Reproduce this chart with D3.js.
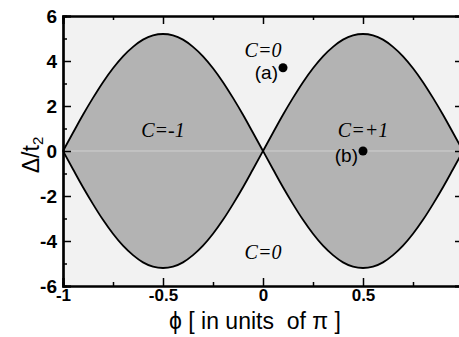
<!DOCTYPE html>
<html><head><meta charset="utf-8">
<script src="https://cdn.jsdelivr.net/npm/d3@7/dist/d3.min.js"></script>
<style>body{margin:0;background:#fff}svg{display:block}</style>
</head><body>
<svg id="c" width="459" height="337"></svg>
<script>
const phi = [-1,-0.95,-0.9,-0.85,-0.8,-0.75,-0.7,-0.65,-0.6,-0.55,-0.5,-0.45,-0.4,-0.35,-0.3,-0.25,-0.2,-0.15,-0.1,-0.05,0,
              0.05,0.1,0.15,0.2,0.25,0.3,0.35,0.4,0.45,0.5,0.55,0.6,0.65,0.7,0.75,0.8,0.85,0.9,0.95,1];
const boundary = [0,0.81,1.61,2.36,3.06,3.68,4.21,4.63,4.95,5.14,5.2,5.14,4.95,4.63,4.21,3.68,3.06,2.36,1.61,0.81,0,
                  0.81,1.61,2.36,3.06,3.68,4.21,4.63,4.95,5.14,5.2,5.14,4.95,4.63,4.21,3.68,3.06,2.36,1.61,0.81,0];
const xTicks = [-1,-0.5,0,0.5,1];
const xTickLabels = ["-1","-0.5","0","0.5",""];
const xMinor = [-0.75,-0.25,0.25,0.75];
const yTicks = [-6,-4,-2,0,2,4,6];
const yTickLabels = ["-6","-4","-2","0","2","4","6"];
const yMinor = [-5,-3,-1,1,3,5];
const points = [{name:"(a)", phi:0.1, delta:3.7},{name:"(b)", phi:0.5, delta:0}];
const regions = [{t:"C=0", phi:0, delta:4.2},{t:"C=-1", phi:-0.5, delta:0.62},{t:"C=+1", phi:0.5, delta:0.62},{t:"C=0", phi:0, delta:-4.8}];

const svg = d3.select("#c");
const x = d3.scaleLinear().domain([-1,1]).range([63,463]);
const y = d3.scaleLinear().domain([-6,6]).range([286,16]);

svg.append("rect").attr("x",x(-1)).attr("y",y(6)).attr("width",x(1)-x(-1)).attr("height",y(-6)-y(6)).attr("fill","#f2f2f2");

const data = phi.map((p,i)=>({p, v:boundary[i]}));
const lobes = [data.filter(d=>d.p<=0), data.filter(d=>d.p>=0)];
const area = d3.area().x(d=>x(d.p)).y0(d=>y(-d.v)).y1(d=>y(d.v)).curve(d3.curveMonotoneX);
const up = d3.line().x(d=>x(d.p)).y(d=>y(d.v)).curve(d3.curveMonotoneX);
const dn = d3.line().x(d=>x(d.p)).y(d=>y(-d.v)).curve(d3.curveMonotoneX);
lobes.forEach(l=>svg.append("path").attr("d",area(l)).attr("fill","#b3b3b3"));
svg.append("line").attr("x1",x(-1)).attr("x2",x(1)).attr("y1",y(0)).attr("y2",y(0)).attr("stroke","#d0d0d0").attr("stroke-width",1);
lobes.forEach(l=>{
  svg.append("path").attr("d",up(l)).attr("fill","none").attr("stroke","#000").attr("stroke-width",1.8);
  svg.append("path").attr("d",dn(l)).attr("fill","none").attr("stroke","#000").attr("stroke-width",1.8);
});

const axB = d3.axisBottom(x).tickValues(xTicks).tickSize(-8).tickPadding(3).tickFormat((d,i)=>xTickLabels[i]);
const axBm = d3.axisBottom(x).tickValues(xMinor).tickSize(-4).tickFormat("");
const axT = d3.axisTop(x).tickValues(xTicks).tickSize(-8).tickFormat("");
const axTm = d3.axisTop(x).tickValues(xMinor).tickSize(-4).tickFormat("");
const axL = d3.axisLeft(y).tickValues(yTicks).tickSize(-8).tickPadding(6).tickFormat((d,i)=>yTickLabels[i]);
const axLm = d3.axisLeft(y).tickValues(yMinor).tickSize(-4).tickFormat("");
const axR = d3.axisRight(y).tickValues(yTicks).tickSize(-8).tickFormat("");
const axRm = d3.axisRight(y).tickValues(yMinor).tickSize(-4).tickFormat("");
function style(g){g.select(".domain").attr("stroke","#000").attr("stroke-width",2.2);g.selectAll(".tick line").attr("stroke","#000").attr("stroke-width",1.5);}
const gB = svg.append("g").attr("transform",`translate(0,${y(-6)})`).call(axB).call(style);
svg.append("g").attr("transform",`translate(0,${y(-6)})`).call(axBm).call(style);
svg.append("g").attr("transform",`translate(0,${y(6)})`).call(axT).call(style);
svg.append("g").attr("transform",`translate(0,${y(6)})`).call(axTm).call(style);
const gL = svg.append("g").attr("transform",`translate(${x(-1)},0)`).call(axL).call(style);
svg.append("g").attr("transform",`translate(${x(-1)},0)`).call(axLm).call(style);
svg.append("g").attr("transform",`translate(${x(1)},0)`).call(axR).call(style);
svg.append("g").attr("transform",`translate(${x(1)},0)`).call(axRm).call(style);
gB.selectAll(".tick text").attr("font-family","Arial, 'Liberation Sans', sans-serif").attr("font-size",17).attr("font-weight","bold").attr("fill","#000").attr("dy","0.72em");
gL.selectAll(".tick text").attr("font-family","Arial, 'Liberation Sans', sans-serif").attr("font-size",19).attr("font-weight","bold").attr("fill","#000");

regions.forEach(r=>{
  svg.append("text").attr("x",x(r.phi)).attr("y",y(r.delta)).attr("text-anchor","middle")
    .attr("font-family","'Times New Roman','Liberation Serif',serif").attr("font-style","italic").attr("font-size",20).text(r.t);
});
points.forEach(p=>{
  svg.append("circle").attr("cx",x(p.phi)).attr("cy",y(p.delta)).attr("r",4.5).attr("fill","#000");
  svg.append("text").attr("x",x(p.phi)-5).attr("y",y(p.delta)+11).attr("text-anchor","end")
    .attr("font-family","Arial, 'Liberation Sans', sans-serif").attr("font-size",19).text(p.name);
});

svg.append("text").attr("x",255).attr("y",329).attr("text-anchor","middle").style("white-space","pre")
  .attr("font-family","Arial, 'Liberation Sans', sans-serif").attr("font-size",23).text("ϕ [ in units  of π ]");
const yt = svg.append("text").attr("transform","translate(39,155) rotate(-90)").attr("text-anchor","middle")
  .attr("font-family","Arial, 'Liberation Sans', sans-serif").attr("font-size",23);
yt.append("tspan").text("Δ/t");
yt.append("tspan").attr("font-size",15).attr("dy",4).text("2");
</script>
</body></html>
